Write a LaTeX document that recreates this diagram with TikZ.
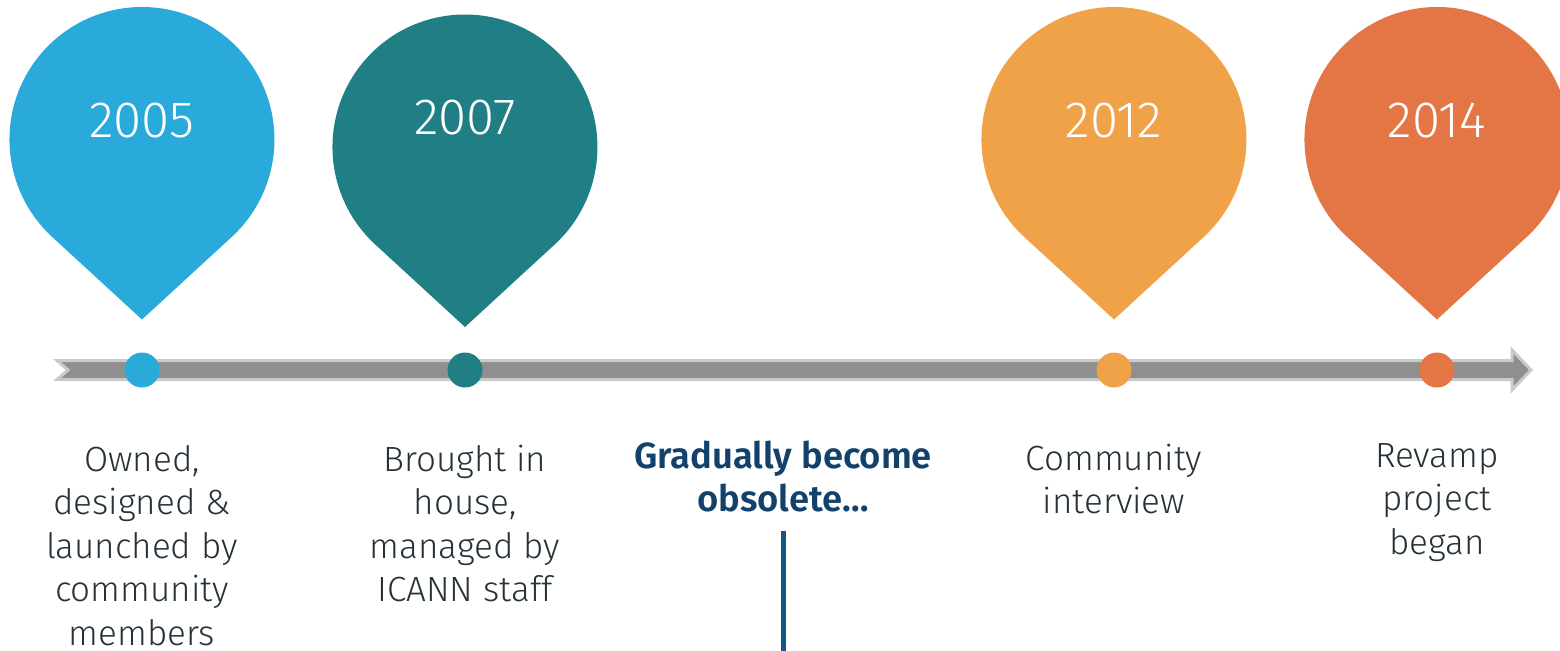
\documentclass[tikz,border=0pt]{standalone}
\usepackage{fontspec}
\setmainfont{Fira Sans Light}[BoldFont={Fira Sans SemiBold}]
\usetikzlibrary{positioning}

\definecolor{pinblue}{HTML}{29AADA}
\definecolor{pinteal}{HTML}{1F7F85}
\definecolor{pinorange}{HTML}{F0A248}
\definecolor{pinred}{HTML}{E47544}
\definecolor{bargray}{HTML}{8F8F8F}
\definecolor{barlight}{HTML}{CACACA}
\definecolor{labelgray}{HTML}{263238}
\definecolor{obsblue}{HTML}{12426B}
\definecolor{obsline}{HTML}{15567E}

\begin{document}
\begin{tikzpicture}[x=0.5pt,y=-0.5pt,
    yeartext/.style={text=white,inner sep=0,font=\fontsize{25.5}{30}\selectfont},
    dotnode/.style={circle,minimum size=17.5pt,inner sep=0},
    labeltext/.style={text=labelgray,align=center,anchor=base,inner sep=0,
        font=\fontsize{17.5}{21.75}\selectfont}]
    \useasboundingbox (0,0) rectangle (1560,650);
    % Timeline bar
    \filldraw[draw=barlight,fill=bargray,line width=1.5pt,line join=miter]
        (57,360.5) -- (1512,360.5) -- (1512,350) -- (1531,370) -- (1512,390)
        -- (1512,379.5) -- (57,379.5) -- (68,370) -- cycle;
    % Pins and dots
    \foreach \px/\py/\pc/\yr/\ty in {142/139.5/pinblue/2005/121,
            465/147/pinteal/2007/117.5, 1114/139.5/pinorange/2012/121,
            1437/139.5/pinred/2014/121}{
        \fill[\pc] (\px,\py+180) -- ++(-90.4,-83.1)
            arc[start angle=133,end angle=407,radius=132.5] -- cycle;
        \node[yeartext] (y\yr) at (\px,\ty) {\yr};
        \node[dotnode,fill=\pc] (d\yr) at (\px,370) {};
    }
    % Labels (anchored at the last line)
    \node[labeltext] (t2005) at (142,645) {Owned,\\designed \&\\launched by\\community\\members};
    \node[labeltext] (t2007) at (465,601.5) {Brought in\\house,\\managed by\\ICANN staff};
    \node[labeltext,text=obsblue,font=\bfseries\fontsize{18.2}{21.75}\selectfont]
        (tobs) at (783,511.5) {Gradually become\\obsolete…};
    \node[labeltext] (t2012) at (1114,513.5) {Community\\interview};
    \node[labeltext] (t2014) at (1437,554) {Revamp\\project\\began};
    % Line below
    \coordinate (lineend) at (783,652);
    \draw[obsline,line width=2.5pt] ([yshift=-9.25pt]tobs.south) -- (lineend);
\end{tikzpicture}
\end{document}
